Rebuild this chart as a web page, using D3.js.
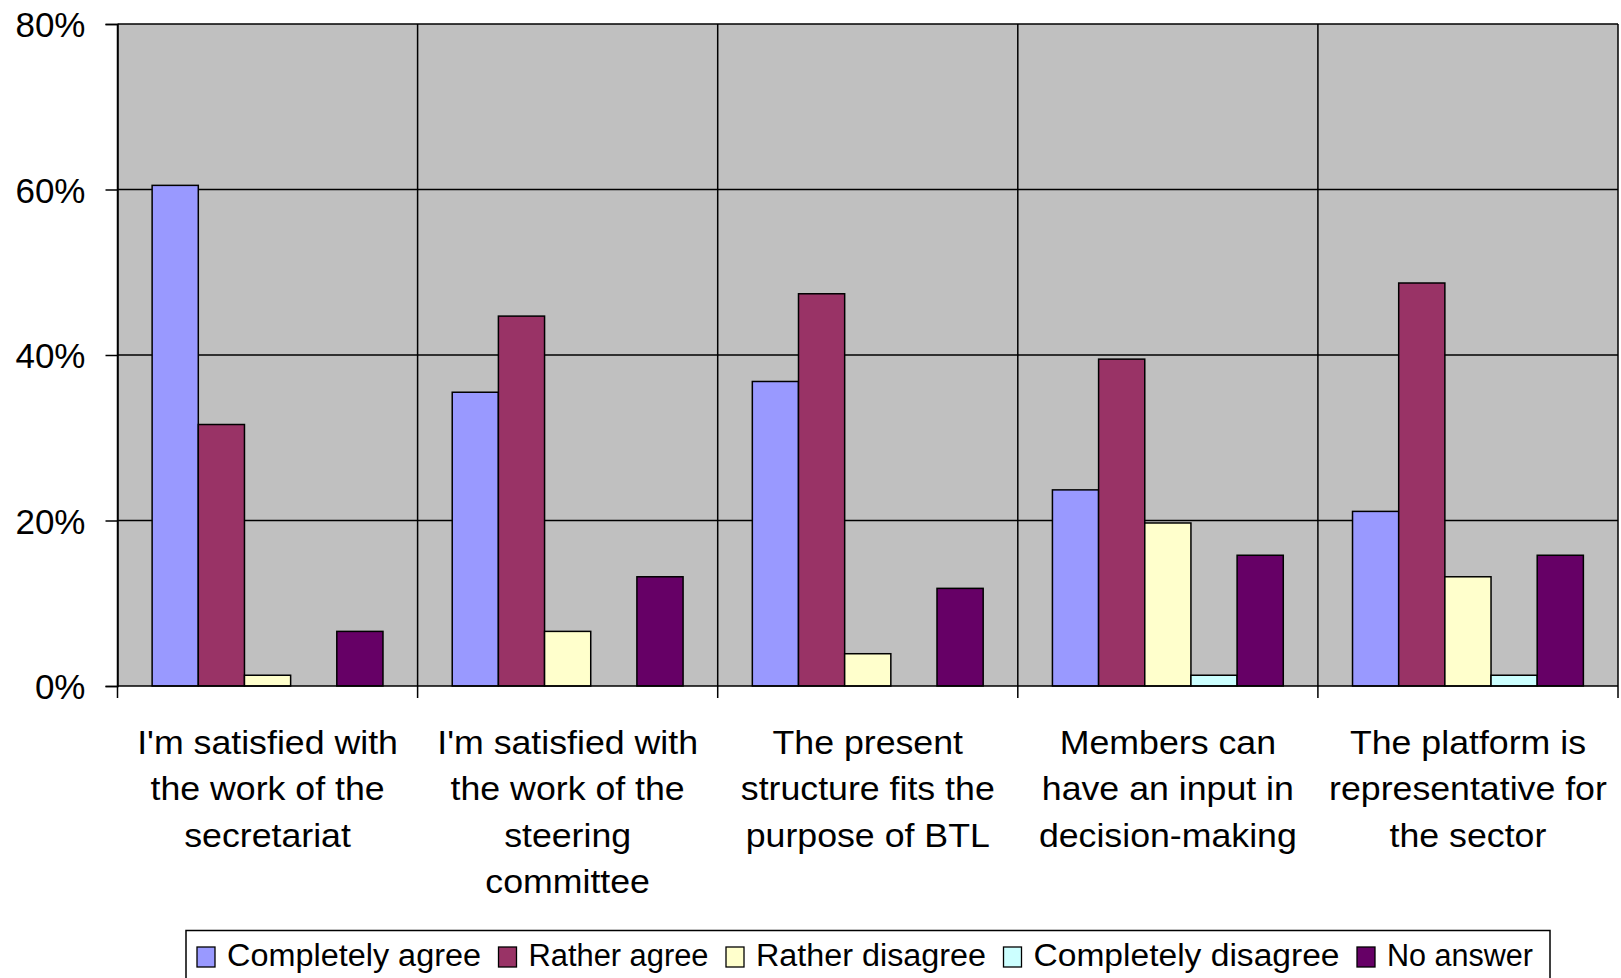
<!DOCTYPE html>
<html><head><meta charset="utf-8">
<script src="https://cdn.jsdelivr.net/npm/d3@7"></script>
<style>body{margin:0;background:#fff}svg{display:block}text{font-family:"Liberation Sans",Arial,sans-serif;fill:#000}</style>
</head><body><svg id="c" width="1621" height="978"></svg>
<script>
const categories = [
  ["I'm satisfied with","the work of the","secretariat"],
  ["I'm satisfied with","the work of the","steering","committee"],
  ["The present","structure fits the","purpose of BTL"],
  ["Members can","have an input in","decision-making"],
  ["The platform is","representative for","the sector"]
];
const seriesNames = ["Completely agree","Rather agree","Rather disagree","Completely disagree","No answer"];
const seriesColors = ["#9999FF","#993366","#FFFFCC","#CCFFFF","#660066"];
const completelyAgree   = [60.5, 35.5, 36.8, 23.7, 21.1];
const ratherAgree       = [31.6, 44.7, 47.4, 39.5, 48.7];
const ratherDisagree    = [1.3, 6.6, 3.9, 19.7, 13.2];
const completelyDisagree= [0, 0, 0, 1.3, 1.3];
const noAnswer          = [6.6, 13.2, 11.8, 15.8, 15.8];
const yTicks = [0, 20, 40, 60, 80];
const seriesValues = [completelyAgree, ratherAgree, ratherDisagree, completelyDisagree, noAnswer];

// layout (not data)
const legendSwatchX = [197, 498.5, 726, 1003.5, 1357];
const legendTextW   = [254, 180, 230, 306, 146];

const svg = d3.select("#c");
const L = 117.5, R = 1618, T = 24, B = 686;
const x0 = d3.scaleBand().domain(d3.range(categories.length)).range([L, R]).padding(0);
const x1 = d3.scaleBand().domain(d3.range(seriesNames.length)).range([0, x0.bandwidth()]).paddingInner(0).paddingOuter(0.75);
const y = d3.scaleLinear().domain([0, 80]).range([B, T]);

svg.append("rect").attr("x", L).attr("y", T).attr("width", R - L).attr("height", B - T).attr("fill", "#C0C0C0");

// horizontal gridlines
svg.append("g").selectAll("line").data(yTicks.filter(d => d > 0)).join("line")
  .attr("x1", L).attr("x2", R).attr("y1", d => y(d)).attr("y2", d => y(d))
  .attr("stroke", "#000").attr("stroke-width", 1.5);
// vertical category dividers (with tick marks below axis)
const bounds = d3.range(categories.length + 1).map(i => i < categories.length ? x0(i) : R);
svg.append("g").selectAll("line").data(bounds).join("line")
  .attr("x1", d => d).attr("x2", d => d).attr("y1", T).attr("y2", B + 12)
  .attr("stroke", "#000").attr("stroke-width", 1.5);

// bars
const g = svg.append("g");
categories.forEach((c, ci) => {
  seriesValues.forEach((vals, si) => {
    const v = vals[ci];
    if (v <= 0) return;
    g.append("rect")
      .attr("x", x0(ci) + x1(si)).attr("y", y(v))
      .attr("width", x1.bandwidth()).attr("height", y(0) - y(v))
      .attr("fill", seriesColors[si]).attr("stroke", "#000").attr("stroke-width", 1.5);
  });
});

// y axis
const yAxis = d3.axisLeft(y).tickValues(yTicks).tickFormat(d => d + "%").tickSize(12).tickPadding(20);
const ya = svg.append("g").attr("transform", `translate(${L},0)`).call(yAxis);
ya.select(".domain").attr("stroke", "#000").attr("stroke-width", 1.5);
ya.selectAll(".tick line").attr("stroke", "#000").attr("stroke-width", 1.5);
ya.selectAll(".tick text").attr("font-size", 35).attr("font-family", "Liberation Sans, Arial, sans-serif").attr("fill", "#000").attr("dy", "0.36em");
// x baseline
svg.append("line").attr("x1", L).attr("x2", R).attr("y1", B).attr("y2", B).attr("stroke", "#000").attr("stroke-width", 1.5);

// category labels
categories.forEach((lines, ci) => {
  const cx = x0(ci) + x0.bandwidth() / 2;
  const t = svg.append("text").attr("text-anchor", "middle").attr("font-size", 34)
    .attr("transform", `translate(${cx},754) scale(1.05,1)`);
  lines.forEach((ln, li) => t.append("tspan").attr("x", 0).attr("y", li * 46.3).text(ln));
});

// legend
const lg = svg.append("g");
lg.append("rect").attr("x", 186).attr("y", 930.5).attr("width", 1364).attr("height", 60)
  .attr("fill", "#fff").attr("stroke", "#000").attr("stroke-width", 1.5);
seriesNames.forEach((n, i) => {
  lg.append("rect").attr("x", legendSwatchX[i]).attr("y", 947).attr("width", 18).attr("height", 20)
    .attr("fill", seriesColors[i]).attr("stroke", "#000").attr("stroke-width", 1.3);
  lg.append("text").attr("x", legendSwatchX[i] + 30).attr("y", 966).attr("font-size", 31)
    .attr("textLength", legendTextW[i]).attr("lengthAdjust", "spacingAndGlyphs").text(n);
});
</script></body></html>
